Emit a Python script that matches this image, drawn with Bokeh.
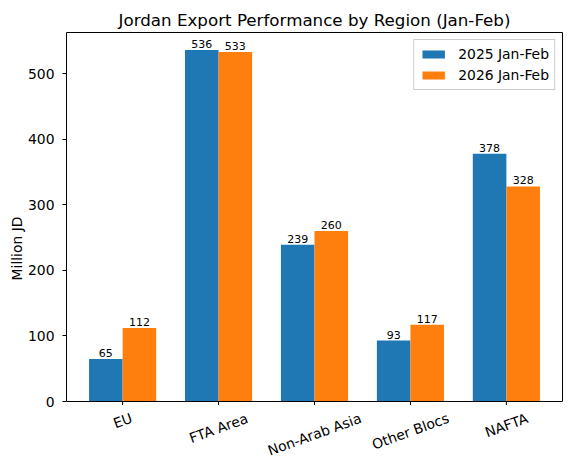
from math import cos, pi, sin

from bokeh.core.properties import value
from bokeh.embed import file_html
from bokeh.models import (ColumnDataSource, FixedTicker, Legend, LegendItem,
                          LinearAxis, Range1d, Span)
from bokeh.plotting import figure
from bokeh.resources import INLINE
from bokeh.transform import dodge

regions = ["EU", "FTA Area", "Non-Arab Asia", "Other Blocs", "NAFTA"]
exports_2025 = [65, 536, 239, 93, 378]
exports_2026 = [112, 533, 260, 117, 328]
series_names = ["2025 Jan-Feb", "2026 Jan-Feb"]
y_ticks = [0, 100, 200, 300, 400, 500]

FONT = "DejaVu Sans"
BLUE = "#1f77b4"
ORANGE = "#ff7f0e"
bar_w = 0.35
tick_px = 13.9
rot = 20

W, H = 571, 468
left, right, top, bottom = 66, 9, 32, 4
axes_h = 369                      # pixel height of the boxed plotting area
frame_h = H - top - bottom

# rough DejaVu Sans advance widths (em) for centring the rotated labels
em = {"E": .632, "U": .732, "F": .575, "T": .611, "A": .684, "r": .411, "e": .615,
      "a": .613, "N": .748, "o": .612, "n": .634, "-": .361, "b": .635, " ": .318,
      "s": .521, "i": .278, "O": .787, "t": .392, "h": .634, "B": .686, "l": .278,
      "c": .550}

ymax = max(exports_2025 + exports_2026) * 1.05
per_px = ymax / axes_h
# the frame reaches below y=0 so the rotated category labels can live inside it
ylo = -(frame_h - axes_h) * per_px

a = rot * pi / 180
drops = []
for name in regions:
    w = sum(em.get(ch, 0.6) for ch in name) * tick_px
    drops.append(8.4 + (w * sin(a) + 16 * cos(a)) / 2)

idx = list(range(len(regions)))
source = ColumnDataSource(dict(
    idx=idx,
    a=exports_2025,
    b=exports_2026,
    a_lbl=[str(v) for v in exports_2025],
    b_lbl=[str(v) for v in exports_2026],
    name=regions,
    drop=drops,
    tick0=[0] * len(idx),
    tick1=[-3.5 * per_px] * len(idx),
))

p = figure(width=W, height=H,
           x_range=Range1d(-0.585, len(regions) - 1 + 0.585),
           y_range=Range1d(ylo, ymax),
           x_axis_location=None,
           output_backend="svg", toolbar_location=None,
           min_border_left=left, min_border_right=right,
           min_border_top=top, min_border_bottom=bottom,
           title="Jordan Export Performance by Region (Jan-Feb)")

p.title.align = "center"
p.title.text_font = FONT
p.title.text_font_size = "16.7px"
p.title.text_font_style = "normal"
p.title.text_color = "black"
p.title.standoff = 6

r1 = p.vbar(x=dodge("idx", -bar_w / 2), top="a", width=bar_w, source=source,
            fill_color=BLUE, line_color=None)
r2 = p.vbar(x=dodge("idx", bar_w / 2), top="b", width=bar_w, source=source,
            fill_color=ORANGE, line_color=None)

p.text(x=dodge("idx", -bar_w / 2), y="a", text="a_lbl", source=source,
       text_align="center", text_baseline="bottom", text_font=value(FONT),
       text_font_size="11px", text_color="black", y_offset=-2)
p.text(x=dodge("idx", bar_w / 2), y="b", text="b_lbl", source=source,
       text_align="center", text_baseline="bottom", text_font=value(FONT),
       text_font_size="11px", text_color="black", y_offset=-2)

# bottom spine, x ticks and rotated category labels
p.add_layout(Span(location=0, dimension="width", line_color="black", line_width=1))
p.segment(x0="idx", y0="tick0", x1="idx", y1="tick1", source=source,
          line_color="black", line_width=1)
p.text(x="idx", y="tick0", text="name", source=source, angle=rot,
       angle_units="deg", text_align="center", text_baseline="middle",
       y_offset="drop", text_font=value(FONT), text_font_size=f"{tick_px}px",
       text_color="black")

p.xgrid.visible = False
p.ygrid.visible = False
p.outline_line_color = None

yax = p.yaxis[0]
yax.bounds = (0, ymax)
yax.ticker = FixedTicker(ticks=y_ticks)
yax.axis_line_color = "black"
yax.major_tick_in = 0
yax.major_tick_out = 4
yax.minor_tick_line_color = None
yax.major_label_text_font = FONT
yax.major_label_text_font_size = f"{tick_px}px"
yax.major_label_text_color = "black"
yax.major_label_standoff = 8
yax.axis_label = "Million JD"
yax.axis_label_text_font = FONT
yax.axis_label_text_font_size = "13.9px"
yax.axis_label_text_font_style = "normal"
yax.axis_label_text_color = "black"
yax.axis_label_standoff = 0

# plain top and right spines
right_ax = LinearAxis(bounds=(0, ymax), ticker=FixedTicker(ticks=[]),
                      axis_line_color="black", major_tick_line_color=None,
                      minor_tick_line_color=None)
p.add_layout(right_ax, "right")
top_ax = LinearAxis(ticker=FixedTicker(ticks=[]), axis_line_color="black",
                    major_tick_line_color=None, minor_tick_line_color=None)
p.add_layout(top_ax, "above")

legend = Legend(items=[LegendItem(label=series_names[0], renderers=[r1]),
                       LegendItem(label=series_names[1], renderers=[r2])],
                location="top_right")
legend.margin = 7
legend.padding = 5
legend.spacing = 3
legend.glyph_width = 28
legend.glyph_height = 10
legend.label_height = 18
legend.label_standoff = 11
legend.label_text_font = FONT
legend.label_text_font_size = "13.9px"
legend.label_text_color = "black"
legend.border_line_color = "#cccccc"
legend.border_line_alpha = 1
legend.background_fill_alpha = 0.8
p.add_layout(legend)

open("out.html", "w").write(file_html(p, INLINE))
